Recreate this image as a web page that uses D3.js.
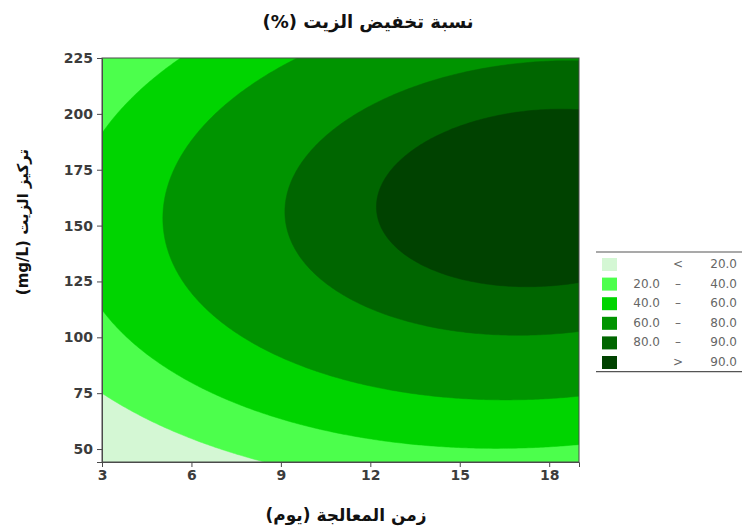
<!DOCTYPE html>
<html>
<head>
<meta charset="utf-8">
<script src="https://cdn.jsdelivr.net/npm/d3@7"></script>
<style>
  html, body { margin: 0; padding: 0; background: #ffffff; }
  svg { display: block; }
</style>
</head>
<body>
<svg id="chart" width="742" height="528"></svg>
<script>
// Treatment time (days) and oil concentration (mg/L) ranges and ticks
const xDomain = [3, 19];
const yDomain = [44.2, 225];
const xTicks = [3, 6, 9, 12, 15, 18];
const yTicks = [50, 75, 100, 125, 150, 175, 200, 225];

// Second-order response surface for oil removal (%):
// z = b0 + b1*x + b2*y + b11*x^2 + b22*y^2 + b12*x*y
const modelTerms = ["const", "x", "y", "x2", "y2", "xy"];
const modelCoefs = [-78.193, 7.1312, 1.3773, -0.22972, -0.0046, 0.006532];

// Contour levels and legend bands
const levels = [20, 40, 60, 80, 90];
const bandLow  = ["",     "20.0", "40.0", "60.0", "80.0", ""];
const bandSign = ["<",    "–",    "–",    "–",    "–",    ">"];
const bandHigh = ["20.0", "40.0", "60.0", "80.0", "90.0", "90.0"];
const bandColors = ["#d4f7d4", "#4cff4c", "#00d400", "#009400", "#006600", "#004200"];

const titleText = "نسبة تخفيض الزيت  (%)";
const xLabel = "زمن المعالجة (يوم)";
const yLabel = "تركيز الزيت (mg/L)";

function response(x, y) {
  const t = [1, x, y, x * x, y * y, x * y];
  return d3.sum(t, (v, i) => v * modelCoefs[i]);
}

const svg = d3.select("#chart");
const plot = { left: 102, right: 579, top: 58, bottom: 462 };

const xScale = d3.scaleLinear().domain(xDomain).range([plot.left, plot.right]);
const yScale = d3.scaleLinear().domain(yDomain).range([plot.bottom, plot.top]);

// Sample the surface on a grid a little wider than the plot
const nx = 200, ny = 160;
const gx0 = xDomain[0] - 0.3, gx1 = xDomain[1] + 0.3;
const gy0 = yDomain[0] - 3, gy1 = yDomain[1] + 3;
const dx = (gx1 - gx0) / (nx - 1), dy = (gy1 - gy0) / (ny - 1);
const values = new Array(nx * ny);
for (let j = 0; j < ny; j++) {
  for (let i = 0; i < nx; i++) {
    values[j * nx + i] = response(gx0 + i * dx, gy0 + j * dy);
  }
}

const contours = d3.contours().size([nx, ny]).thresholds(levels)(values);

const projection = d3.geoTransform({
  point: function (px, py) {
    this.stream.point(
      xScale(gx0 + (px - 0.5) * dx),
      yScale(gy0 + (py - 0.5) * dy)
    );
  }
});
const path = d3.geoPath(projection);

svg.append("defs").append("clipPath").attr("id", "plot-clip")
  .append("rect")
  .attr("x", plot.left).attr("y", plot.top)
  .attr("width", plot.right - plot.left).attr("height", plot.bottom - plot.top);

const g = svg.append("g").attr("clip-path", "url(#plot-clip)");
g.append("rect")
  .attr("x", plot.left).attr("y", plot.top)
  .attr("width", plot.right - plot.left).attr("height", plot.bottom - plot.top)
  .attr("fill", bandColors[0]);

g.selectAll("path.band")
  .data(contours)
  .join("path")
  .attr("class", "band")
  .attr("d", path)
  .attr("fill", (d, i) => bandColors[i + 1])
  .attr("stroke", (d, i) => bandColors[i + 1])
  .attr("stroke-width", 0.5);

// Frame
svg.append("rect")
  .attr("x", plot.left).attr("y", plot.top)
  .attr("width", plot.right - plot.left).attr("height", plot.bottom - plot.top)
  .attr("fill", "none").attr("stroke", "#4a4a4a").attr("stroke-width", 1);

// Axes
const tickFont = "'DejaVu Sans', Verdana, sans-serif";
const xAxis = d3.axisBottom(xScale).tickValues(xTicks).tickSize(5).tickPadding(3)
  .tickFormat(d3.format("d"));
const yAxis = d3.axisLeft(yScale).tickValues(yTicks).tickSize(5).tickPadding(4)
  .tickFormat(d3.format("d"));

const gx = svg.append("g").attr("transform", `translate(0,${plot.bottom})`).call(xAxis);
const gy = svg.append("g").attr("transform", `translate(${plot.left},0)`).call(yAxis);
[gx, gy].forEach(a => {
  a.select(".domain").attr("stroke", "#4a4a4a");
  a.selectAll(".tick line").attr("stroke", "#4a4a4a");
  a.selectAll(".tick text")
    .attr("fill", "#3c3c3c")
    .style("font-family", tickFont)
    .style("font-size", "14px")
    .style("font-weight", "bold");
});

// Titles
const arabicFont = "'DejaVu Sans', 'Noto Sans', sans-serif";
svg.append("text")
  .attr("x", 368).attr("y", 28)
  .attr("text-anchor", "middle").attr("direction", "rtl")
  .style("font-family", arabicFont).style("font-size", "18px").style("font-weight", "bold")
  .attr("fill", "#111")
  .text(titleText);

svg.append("text")
  .attr("x", 346).attr("y", 521)
  .attr("text-anchor", "middle").attr("direction", "rtl")
  .style("font-family", arabicFont).style("font-size", "17px").style("font-weight", "bold")
  .attr("fill", "#111")
  .text(xLabel);

svg.append("text")
  .attr("transform", "translate(28,222) rotate(-90)")
  .attr("text-anchor", "middle").attr("direction", "rtl")
  .style("font-family", arabicFont).style("font-size", "15px").style("font-weight", "bold")
  .attr("fill", "#111")
  .text(yLabel);

// Legend
const legend = svg.append("g");
const legTop = 252, legRow = 19.6;
legend.append("line").attr("x1", 596).attr("x2", 742).attr("y1", legTop).attr("y2", legTop)
  .attr("stroke", "#555").attr("stroke-width", 1.2);
legend.append("line").attr("x1", 596).attr("x2", 742)
  .attr("y1", legTop + legRow * bandColors.length + 2).attr("y2", legTop + legRow * bandColors.length + 2)
  .attr("stroke", "#555").attr("stroke-width", 1.2);

const rows = legend.selectAll("g.row")
  .data(bandColors)
  .join("g")
  .attr("class", "row")
  .attr("transform", (d, i) => `translate(0,${legTop + 12 + i * legRow})`);

rows.append("rect")
  .attr("x", 602).attr("y", -6).attr("width", 15).attr("height", 13)
  .attr("fill", d => d);

const legFont = "'DejaVu Sans', Verdana, sans-serif";
function legText(sel, x, anchor, accessor) {
  sel.append("text")
    .attr("x", x).attr("y", 4)
    .attr("text-anchor", anchor)
    .style("font-family", legFont).style("font-size", "12px")
    .attr("fill", "#666")
    .text((d, i) => accessor[i]);
}
legText(rows, 660, "end", bandLow);
legText(rows, 678, "middle", bandSign);
legText(rows, 737, "end", bandHigh);
</script>
</body>
</html>
